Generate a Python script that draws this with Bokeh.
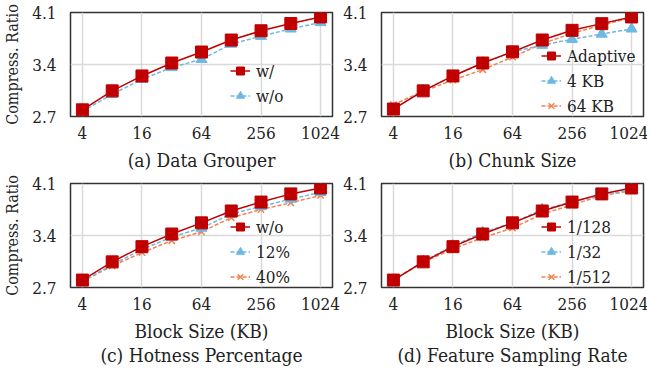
from bokeh.plotting import figure
from bokeh.models import (Range1d, FixedTicker, Legend, LegendItem)
from bokeh.layouts import column, row
from bokeh.embed import file_html
from bokeh.resources import INLINE

block_sizes = [4, 8, 16, 32, 64, 128, 256, 512, 1024]
x_ticks = [4, 16, 64, 256, 1024]
y_ticks = [2.7, 3.4, 4.1]

a_with = [2.79, 3.045, 3.246, 3.42, 3.568, 3.729, 3.854, 3.952, 4.04]
a_without = [2.77, 3.00, 3.20, 3.36, 3.47, 3.675, 3.78, 3.88, 3.966]

b_adaptive = [2.80, 3.045, 3.246, 3.42, 3.57, 3.73, 3.86, 3.95, 4.04]
b_4kb = [2.80, 3.045, 3.246, 3.42, 3.57, 3.66, 3.74, 3.81, 3.88]
b_64kb = [2.86, 3.04, 3.19, 3.33, 3.50, 3.68, 3.82, 3.93, 4.03]

c_without = [2.80, 3.045, 3.25, 3.42, 3.57, 3.73, 3.85, 3.96, 4.04]
c_12 = [2.78, 3.01, 3.21, 3.38, 3.50, 3.69, 3.79, 3.89, 3.98]
c_40 = [2.78, 2.99, 3.17, 3.33, 3.45, 3.64, 3.75, 3.84, 3.94]

d_128 = [2.80, 3.045, 3.25, 3.42, 3.57, 3.73, 3.85, 3.96, 4.04]
d_32 = [2.80, 3.05, 3.26, 3.44, 3.57, 3.75, 3.85, 3.95, 4.01]
d_512 = [2.80, 3.04, 3.22, 3.37, 3.50, 3.69, 3.81, 3.94, 4.00]

FONT = "DejaVu Serif Condensed"
RED = "#C00000"
BLUE = "#6DB9E3"
ORANGE = "#F4814F"
TXT = "#222222"
FRAME_H = 104
FRAME_W = 262


def make_panel(series, caption, left_panel, bottom_panel, legend_loc):
    p = figure(frame_width=FRAME_W, frame_height=FRAME_H, x_axis_type="log",
               x_range=Range1d(3.03, 1352), y_range=Range1d(2.7, 4.1),
               output_backend="svg", toolbar_location=None,
               min_border_left=70 if left_panel else 40,
               min_border_right=8 if left_panel else 5,
               min_border_top=10 if bottom_panel else 12,
               min_border_bottom=4 if bottom_panel else 50)
    p.background_fill_color = "white"
    p.border_fill_color = "white"
    p.outline_line_color = "#333333"
    p.outline_line_width = 1.5

    p.xaxis.ticker = FixedTicker(ticks=x_ticks)
    p.xaxis.major_label_overrides = {t: str(t) for t in x_ticks}
    p.yaxis.ticker = FixedTicker(ticks=y_ticks)
    for ax in (p.xaxis[0], p.yaxis[0]):
        ax.axis_line_color = None
        ax.major_tick_line_color = None
        ax.minor_tick_line_color = None
        ax.major_tick_out = 0
        ax.major_tick_in = 0
        ax.minor_tick_out = 0
        ax.minor_tick_in = 0
        ax.major_label_text_font = FONT
        ax.major_label_text_font_size = "17px"
        ax.major_label_text_color = TXT
        ax.axis_label_text_font = FONT
        ax.axis_label_text_font_style = "normal"
        ax.axis_label_text_color = TXT
    p.xaxis.major_label_standoff = 10
    p.yaxis.major_label_standoff = 14
    if left_panel:
        p.yaxis.axis_label = "Compress. Ratio"
        p.yaxis.axis_label_text_font_size = "16px"
        p.yaxis.axis_label_standoff = 7
    p.xaxis.axis_label_text_font_size = "19px"
    p.xaxis.axis_label_text_line_height = 1.1
    if bottom_panel:
        p.xaxis.axis_label = "Block Size (KB)\n" + caption
        p.xaxis.axis_label_standoff = 7
    else:
        p.xaxis.axis_label = caption
        p.xaxis.axis_label_standoff = 7

    p.xgrid.ticker = FixedTicker(ticks=x_ticks)
    p.ygrid.ticker = FixedTicker(ticks=y_ticks)
    p.grid.grid_line_color = "#D9D9D9"
    p.grid.grid_line_width = 1.5

    items = []
    styles = {
        "red": dict(color=RED, dash="solid", marker="square", size=12),
        "blue": dict(color=BLUE, dash="4 2", marker="triangle", size=11),
        "orange": dict(color=ORANGE, dash="4 2", marker="x", size=9),
    }
    renderers = {}
    for key in ["orange", "blue", "red"]:
        if key not in series:
            continue
        label, vals = series[key]
        st = styles[key]
        ln = p.line(block_sizes, vals, line_color=st["color"], line_width=1.5,
                    line_dash=st["dash"])
        mk = p.scatter(block_sizes, vals, marker=st["marker"], size=st["size"],
                       fill_color=st["color"], line_color=st["color"],
                       line_width=1.5 if key == "orange" else 1)
        renderers[key] = (label, [ln, mk])
    for key in ["red", "blue", "orange"]:
        if key in renderers:
            label, rs = renderers[key]
            items.append(LegendItem(label=label, renderers=rs))
    leg = Legend(items=items, location=legend_loc,
                 label_text_font=FONT, label_text_font_size="17px",
                 label_text_color=TXT, background_fill_alpha=0,
                 border_line_color=None, padding=0, margin=0, spacing=0,
                 label_height=25, glyph_height=25, glyph_width=20,
                 label_standoff=6)
    p.add_layout(leg, "center")
    return p


pa = make_panel({"red": ("w/", a_with), "blue": ("w/o", a_without)},
                "(a) Data Grouper", True, False, (160, 8))
pb = make_panel({"red": ("Adaptive", b_adaptive), "blue": ("4 KB", b_4kb),
                 "orange": ("64 KB", b_64kb)},
                "(b) Chunk Size", False, False, (160, -2))
pc = make_panel({"red": ("w/o", c_without), "blue": ("12%", c_12),
                 "orange": ("40%", c_40)},
                "(c) Hotness Percentage", True, True, (160, -2))
pd = make_panel({"red": ("1/128", d_128), "blue": ("1/32", d_32),
                 "orange": ("1/512", d_512)},
                "(d) Feature Sampling Rate", False, True, (160, -2))

layout = column(row(pa, pb, spacing=0), row(pc, pd, spacing=0), spacing=0)
open("out.html", "w").write(file_html(layout, INLINE))
